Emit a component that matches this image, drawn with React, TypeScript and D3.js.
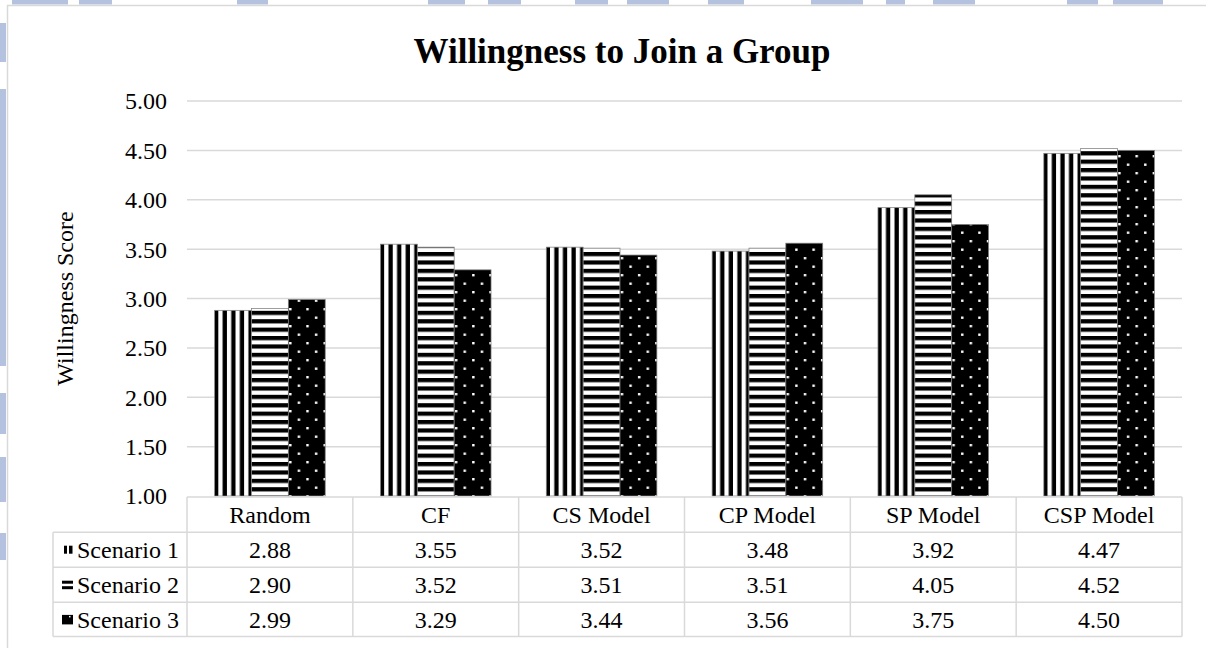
import React from "react";
import * as d3 from "d3";

// Chart data
const categories = ["Random", "CF", "CS Model", "CP Model", "SP Model", "CSP Model"];
const seriesNames = ["Scenario 1", "Scenario 2", "Scenario 3"];
const scenario1 = [2.88, 3.55, 3.52, 3.48, 3.92, 4.47];
const scenario2 = [2.9, 3.52, 3.51, 3.51, 4.05, 4.52];
const scenario3 = [2.99, 3.29, 3.44, 3.56, 3.75, 4.5];
const yTicks = [1, 1.5, 2, 2.5, 3, 3.5, 4, 4.5, 5];

// Page decoration: light blue dashed edge of the surrounding page
const topDashes = [
  [12, 68], [79, 112], [237, 268], [428, 465], [488, 521], [575, 608], [627, 669],
  [708, 744], [811, 863], [886, 905], [933, 975], [1067, 1098], [1113, 1163],
];
const leftDashes = [[23, 62], [89, 366], [393, 434], [457, 502], [533, 560]];

const W = 1206;
const H = 648;
const FONT = "'Liberation Serif', 'Times New Roman', serif";
const GRID = "#d9d9d9";
const FS = 24;

const plot = { left: 187, right: 1182, top: 101, bottom: 496 };
const table = { left: 53 };

export default function App() {
  const series = [scenario1, scenario2, scenario3];
  const x = d3.scaleBand<string>().domain(categories).range([plot.left, plot.right]).padding(0);
  const bw = x.bandwidth();
  const groupW = (bw * 3) / 4.5; // gap width 150%
  const xs = d3
    .scaleBand<string>()
    .domain(seriesNames)
    .range([-groupW / 2, groupW / 2])
    .padding(0);
  const y = d3.scaleLinear().domain([1, 5]).range([plot.bottom, plot.top]);
  const fills = ["url(#vStripe)", "url(#hStripe)", "url(#dots)"];

  const headerTop = plot.bottom + 1;
  const tableBottom = headerTop + 4 * 34.9;
  const rowY = (i: number) => headerTop + (i + 1) * 35 + 0.2;

  return (
    <div style={{ position: "absolute", left: 0, top: 0 }}>
      <svg width={W} height={H} style={{ display: "block", background: "#fff" }}>
        <defs>
          <pattern id="vStripe" patternUnits="userSpaceOnUse" width={8.6} height={10}>
            <rect width={8.6} height={10} fill="#fff" />
            <rect x={4.3} width={4.3} height={10} fill="#000" />
          </pattern>
          <pattern id="hStripe" patternUnits="userSpaceOnUse" width={10} height={8.4}>
            <rect width={10} height={8.4} fill="#fff" />
            <rect y={0} width={10} height={4.2} fill="#000" />
          </pattern>
          <pattern id="dots" patternUnits="userSpaceOnUse" width={17.2} height={17}>
            <rect width={17.2} height={17} fill="#000" />
            <rect x={2} y={2} width={2.4} height={2.4} fill="#fff" />
            <rect x={10.6} y={10.5} width={2.4} height={2.4} fill="#fff" />
          </pattern>
        </defs>

        {/* page edge decoration */}
        {topDashes.map(([a, b], i) => (
          <rect key={"t" + i} x={a} y={0} width={b - a} height={4.5} fill="#b4c1df" />
        ))}
        {leftDashes.map(([a, b], i) => (
          <rect key={"l" + i} x={0} y={a} width={6} height={b - a} fill="#b4c1df" />
        ))}

        {/* chart frame */}
        <path d={`M7.5,${H} V5.5 H${W}`} fill="none" stroke={GRID} strokeWidth={1.5} />

        {/* title */}
        <text
          x={622}
          y={63}
          textAnchor="middle"
          fontFamily={FONT}
          fontWeight="bold"
          fontSize={35}
          fill="#000"
        >
          Willingness to Join a Group
        </text>

        {/* gridlines and y tick labels */}
        {yTicks.map((t) => (
          <g key={t}>
            {t > 1 && (
              <line x1={plot.left} x2={plot.right} y1={y(t)} y2={y(t)} stroke={GRID} strokeWidth={1.5} />
            )}
            <text
              x={167}
              y={y(t)}
              dy="0.35em"
              textAnchor="end"
              fontFamily={FONT}
              fontSize={FS}
              fill="#000"
            >
              {t.toFixed(2)}
            </text>
          </g>
        ))}

        {/* y axis title */}
        <text
          transform={`translate(73, ${(plot.top + plot.bottom) / 2}) rotate(-90)`}
          textAnchor="middle"
          fontFamily={FONT}
          fontSize={FS}
          fill="#000"
        >
          Willingness Score
        </text>

        {/* bars */}
        {categories.map((c, ci) => (
          <g key={c} transform={`translate(${(x(c) as number) + bw / 2},0)`}>
            {series.map((vals, si) => (
              <rect
                key={si}
                x={xs(seriesNames[si]) as number}
                y={y(vals[ci])}
                width={xs.bandwidth()}
                height={y(1) - y(vals[ci])}
                fill={fills[si]}
                stroke="#7f7f7f"
                strokeWidth={0.75}
              />
            ))}
          </g>
        ))}

        {/* data table */}
        <g fontFamily={FONT} fontSize={FS} fill="#000">
          {/* horizontal rules */}
          <line x1={plot.left} x2={plot.right} y1={headerTop} y2={headerTop} stroke={GRID} strokeWidth={1.5} />
          {[0, 1, 2].map((i) => (
            <line
              key={"h" + i}
              x1={table.left}
              x2={plot.right}
              y1={rowY(i)}
              y2={rowY(i)}
              stroke={GRID}
              strokeWidth={1.5}
            />
          ))}
          <line x1={table.left} x2={plot.right} y1={tableBottom} y2={tableBottom} stroke={GRID} strokeWidth={1.5} />
          {/* vertical rules */}
          <line x1={table.left} x2={table.left} y1={rowY(0)} y2={tableBottom} stroke={GRID} strokeWidth={1.5} />
          {categories.map((c) => (
            <line
              key={"v" + c}
              x1={x(c) as number}
              x2={x(c) as number}
              y1={headerTop}
              y2={tableBottom}
              stroke={GRID}
              strokeWidth={1.5}
            />
          ))}
          <line x1={plot.right} x2={plot.right} y1={headerTop} y2={tableBottom} stroke={GRID} strokeWidth={1.5} />

          {/* header */}
          {categories.map((c) => (
            <text
              key={"c" + c}
              x={(x(c) as number) + bw / 2}
              y={(headerTop + rowY(0)) / 2}
              dy="0.35em"
              textAnchor="middle"
            >
              {c}
            </text>
          ))}

          {/* rows */}
          {series.map((vals, si) => {
            const top = rowY(si);
            const bottom = si === 2 ? tableBottom : rowY(si + 1);
            const cy = (top + bottom) / 2;
            const kx = 62;
            return (
              <g key={"r" + si}>
                {si === 0 && (
                  <g>
                    <rect x={kx + 2} y={cy - 4} width={3} height={8} fill="#000" />
                    <rect x={kx + 7} y={cy - 4} width={3.5} height={8} fill="#000" />
                  </g>
                )}
                {si === 1 && (
                  <g>
                    <rect x={kx} y={cy - 4} width={11} height={3} fill="#000" />
                    <rect x={kx} y={cy + 1.5} width={11} height={3} fill="#000" />
                  </g>
                )}
                {si === 2 && (
                  <g>
                    <rect x={kx} y={cy - 4.5} width={11} height={9.5} fill="#000" />
                    <rect x={kx + 7} y={cy - 3.5} width={1.5} height={1.5} fill="#fff" />
                  </g>
                )}
                <text x={77} y={cy} dy="0.35em">
                  {seriesNames[si]}
                </text>
                {vals.map((v, ci) => (
                  <text
                    key={ci}
                    x={(x(categories[ci]) as number) + bw / 2}
                    y={cy}
                    dy="0.35em"
                    textAnchor="middle"
                  >
                    {v.toFixed(2)}
                  </text>
                ))}
              </g>
            );
          })}
        </g>
      </svg>
    </div>
  );
}
